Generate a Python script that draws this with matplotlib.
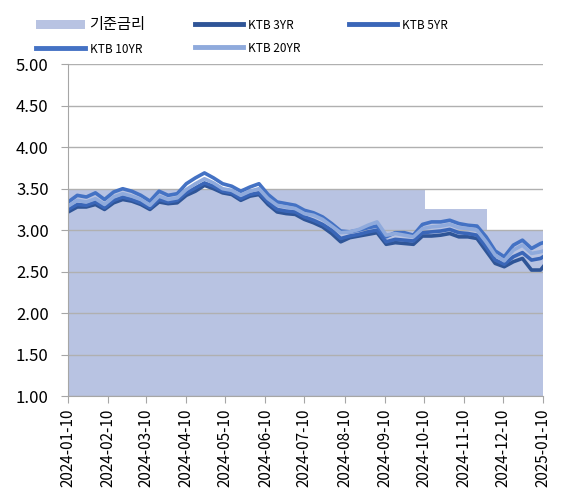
import pandas as pd
import matplotlib
matplotlib.use("Agg")
import matplotlib.pyplot as plt
import matplotlib.dates as mdates

plt.rcParams['font.family'] = ['Noto Sans CJK KR', 'DejaVu Sans']

# weekly readings (2024-01-10 .. 2025-01-10)
dates = list(pd.date_range("2024-01-10", periods=53, freq="7D")) + [pd.Timestamp("2025-01-10")]

ktb_10y = [3.34, 3.42, 3.40, 3.45, 3.37, 3.46, 3.50, 3.47, 3.42, 3.35,
           3.47, 3.42, 3.44, 3.56, 3.63, 3.69, 3.63, 3.56, 3.53, 3.47,
           3.52, 3.56, 3.43, 3.34, 3.32, 3.30, 3.24, 3.21, 3.16, 3.08,
           2.99, 2.98, 3.00, 3.03, 3.05, 2.92, 2.97, 2.97, 2.94, 3.07,
           3.10, 3.10, 3.12, 3.08, 3.06, 3.05, 2.92, 2.75, 2.68, 2.82,
           2.88, 2.78, 2.84, 2.85]
ktb_20y = [3.29, 3.36, 3.34, 3.38, 3.31, 3.40, 3.44, 3.41, 3.37, 3.30,
           3.41, 3.37, 3.39, 3.49, 3.56, 3.62, 3.57, 3.50, 3.48, 3.42,
           3.47, 3.50, 3.38, 3.30, 3.28, 3.26, 3.20, 3.18, 3.13, 3.05,
           2.97, 2.98, 3.01, 3.06, 3.10, 2.94, 2.96, 2.94, 2.92, 3.02,
           3.04, 3.05, 3.07, 3.03, 3.02, 3.00, 2.86, 2.70, 2.63, 2.76,
           2.82, 2.72, 2.74, 2.75]
ktb_5y = [3.25, 3.31, 3.30, 3.34, 3.27, 3.36, 3.40, 3.37, 3.33, 3.27,
          3.37, 3.34, 3.36, 3.45, 3.51, 3.57, 3.53, 3.47, 3.45, 3.38,
          3.43, 3.45, 3.34, 3.25, 3.23, 3.22, 3.16, 3.12, 3.07, 3.00,
          2.90, 2.93, 2.95, 2.98, 3.00, 2.86, 2.89, 2.88, 2.87, 2.97,
          2.98, 2.99, 3.01, 2.97, 2.96, 2.94, 2.80, 2.64, 2.59, 2.68,
          2.73, 2.64, 2.66, 2.68]
ktb_3y = [3.22, 3.28, 3.28, 3.31, 3.25, 3.33, 3.37, 3.35, 3.31, 3.25,
          3.34, 3.32, 3.33, 3.42, 3.47, 3.54, 3.50, 3.45, 3.43, 3.36,
          3.41, 3.43, 3.31, 3.22, 3.20, 3.19, 3.13, 3.09, 3.04, 2.96,
          2.86, 2.91, 2.93, 2.95, 2.97, 2.83, 2.85, 2.84, 2.83, 2.93,
          2.93, 2.94, 2.96, 2.92, 2.92, 2.90, 2.75, 2.60, 2.56, 2.62,
          2.66, 2.52, 2.52, 2.56]

# 기준금리 (base rate) changes
base_dates = pd.to_datetime(["2024-01-10", "2024-10-11", "2024-11-28", "2025-01-10"])
base_rate = [3.50, 3.25, 3.00, 3.00]

tick_dates = pd.date_range("2024-01-10", "2025-01-10", freq=pd.DateOffset(months=1))

fig = plt.figure(figsize=(5.73, 4.94), dpi=100)
ax = fig.add_axes([0.119, 0.198, 0.829, 0.672])

h_base = ax.fill_between(base_dates, base_rate, 1.0, step="post", color="#b8c3e2", lw=0, label="기준금리")
h3, = ax.plot(dates, ktb_3y, color="#2f5597", lw=2.6, label="KTB 3YR")
h5, = ax.plot(dates, ktb_5y, color="#3a66b8", lw=2.6, label="KTB 5YR")
h10, = ax.plot(dates, ktb_10y, color="#4472c4", lw=2.6, label="KTB 10YR")
h20, = ax.plot(dates, ktb_20y, color="#8faadc", lw=2.6, label="KTB 20YR")

ax.set_ylim(1.0, 5.0)
ax.set_yticks([1.0 + 0.5 * i for i in range(9)])
ax.yaxis.set_major_formatter(matplotlib.ticker.FormatStrFormatter("%.2f"))
ax.set_xlim(tick_dates[0], tick_dates[-1])
ax.set_xticks(tick_dates)
ax.xaxis.set_major_formatter(mdates.DateFormatter("%Y-%m-%d"))
plt.setp(ax.get_xticklabels(), rotation=90)
ax.tick_params(axis="y", labelsize=12, color="#a6a6a6", length=5, pad=9)
ax.tick_params(axis="x", labelsize=11, color="#a6a6a6", length=5, pad=4)

ax.grid(axis="y", color="#b0b0b0", lw=1)
for s in ["top", "right"]:
    ax.spines[s].set_visible(False)
ax.spines["left"].set_color("#a6a6a6")
ax.spines["bottom"].set_color("#a6a6a6")

# row-wise legend order: column-major filling in matplotlib
handles = [h_base, h10, h3, h20, h5]
leg = fig.legend(handles=handles, labels=[h.get_label() for h in handles],
                 loc="upper left", bbox_to_anchor=(0.045, 0.99), ncol=3, frameon=False,
                 fontsize=8.5, handlelength=4.1, columnspacing=4.15, handletextpad=0.4,
                 labelspacing=0.85)
leg.get_texts()[0].set_fontsize(11)
for h in leg.legend_handles[1:]:
    h.set_linewidth(3.5)

fig.savefig("out.png", dpi=100)
